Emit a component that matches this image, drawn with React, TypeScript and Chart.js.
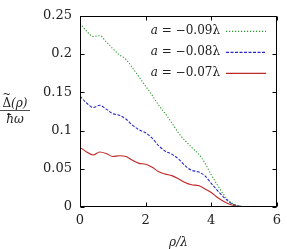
import React, { useEffect, useRef } from "react";
import { Chart, registerables } from "chart.js";

Chart.register(...registerables);

const xValues = [0, 0.2, 0.4, 0.6, 0.8, 1.0, 1.2, 1.4, 1.6, 1.8, 2.0, 2.2, 2.4, 2.6, 2.8, 3.0, 3.2, 3.4, 3.6, 3.8, 4.0, 4.2, 4.4, 4.6, 4.8, 5.0, 5.2, 5.4, 5.6, 5.8, 6.0];
const green09 = [0.240, 0.230, 0.223, 0.224, 0.216, 0.207, 0.199, 0.193, 0.182, 0.170, 0.158, 0.146, 0.133, 0.122, 0.110, 0.097, 0.087, 0.078, 0.070, 0.058, 0.042, 0.028, 0.015, 0.006, 0.002, 0.0005, 0, 0, 0, 0, 0];
const blue08 = [0.145, 0.136, 0.130, 0.133, 0.128, 0.122, 0.120, 0.115, 0.107, 0.101, 0.097, 0.090, 0.080, 0.073, 0.069, 0.063, 0.054, 0.048, 0.046, 0.041, 0.031, 0.021, 0.012, 0.005, 0.0015, 0.0003, 0, 0, 0, 0, 0];
const red07 = [0.078, 0.072, 0.068, 0.072, 0.070, 0.066, 0.067, 0.066, 0.061, 0.057, 0.056, 0.052, 0.046, 0.043, 0.041, 0.037, 0.032, 0.029, 0.028, 0.024, 0.019, 0.012, 0.007, 0.003, 0.001, 0.0002, 0, 0, 0, 0, 0];
const seriesLabels = ["−0.09λ", "−0.08λ", "−0.07λ"];
const xTicks = [0, 2, 4, 6];
const yTicks = [0, 0.05, 0.1, 0.15, 0.2, 0.25];
const yTickLabels = ["0", "0.05", "0.1", "0.15", "0.2", "0.25"];

const COLORS = ["rgb(40,150,40)", "rgb(40,40,200)", "rgb(190,40,40)"];
const DASHES = [[1.2, 1.8], [3, 1.5], []];
const FONT = "'DejaVu Serif', 'Liberation Serif', serif";

const framePlugin = {
  id: "frame",
  afterDraw(chart: any) {
    const { ctx, chartArea: a, scales } = chart;
    const L = Math.round(a.left) + 0.5, R = Math.round(a.right) - 0.5;
    const T = Math.round(a.top) + 0.5, B = Math.round(a.bottom) - 0.5;
    ctx.save();
    ctx.strokeStyle = "#000";
    ctx.lineWidth = 1;
    ctx.setLineDash([]);
    ctx.strokeRect(L, T, R - L, B - T);
    const tl = 4;
    ctx.beginPath();
    yTicks.forEach((v) => {
      const y = Math.round(scales.y.getPixelForValue(v)) + 0.5;
      ctx.moveTo(L, y); ctx.lineTo(L + tl, y);
      ctx.moveTo(R, y); ctx.lineTo(R - tl, y);
    });
    xTicks.forEach((v) => {
      const x = Math.round(scales.x.getPixelForValue(v)) + 0.5;
      ctx.moveTo(x, B); ctx.lineTo(x, B - tl);
      ctx.moveTo(x, T); ctx.lineTo(x, T + tl);
    });
    ctx.stroke();

    // legend
    ctx.textBaseline = "middle";
    const rows = [a.top + 15, a.top + 36, a.top + 57];
    rows.forEach((ry, i) => {
      const textRight = a.left + 140;
      ctx.fillStyle = "#222";
      ctx.textAlign = "right";
      const rest = " = " + seriesLabels[i];
      ctx.font = `12px ${FONT}`;
      const rw = ctx.measureText(rest).width;
      ctx.fillText(rest, textRight, ry);
      ctx.font = `italic 12px ${FONT}`;
      ctx.fillText("a", textRight - rw, ry);
      ctx.beginPath();
      ctx.strokeStyle = COLORS[i];
      ctx.lineWidth = 1.2;
      ctx.setLineDash(DASHES[i]);
      ctx.moveTo(a.left + 146, ry + 0.5);
      ctx.lineTo(a.left + 186, ry + 0.5);
      ctx.stroke();
    });
    ctx.setLineDash([]);

    // x title
    ctx.fillStyle = "#222";
    ctx.textAlign = "center";
    ctx.textBaseline = "alphabetic";
    ctx.font = `italic 12px ${FONT}`;
    ctx.fillText("ρ/λ", (a.left + a.right) / 2, a.bottom + 39);

    // y title as fraction
    const cx = 15;
    ctx.textAlign = "left";
    ctx.font = `12px ${FONT}`;
    const wD = ctx.measureText("Δ").width;
    ctx.font = `italic 12px ${FONT}`;
    const wRest = ctx.measureText("(ρ)").width;
    const start = cx - (wD + wRest) / 2;
    ctx.font = `12px ${FONT}`;
    ctx.fillText("Δ", start, 107);
    ctx.textAlign = "center";
    ctx.font = `10px ${FONT}`;
    ctx.fillText("~", start + wD / 2, 97);
    ctx.textAlign = "left";
    ctx.font = `italic 12px ${FONT}`;
    ctx.fillText("(ρ)", start + wD, 107);
    ctx.beginPath();
    ctx.strokeStyle = "#222";
    ctx.lineWidth = 0.8;
    ctx.moveTo(0, 110.5);
    ctx.lineTo(30, 110.5);
    ctx.stroke();
    ctx.textAlign = "center";
    ctx.fillText("ħω", cx, 123);
    ctx.restore();
  },
};

export default function App() {
  const ref = useRef<HTMLCanvasElement>(null);
  useEffect(() => {
    document.body.style.margin = "0";
    const mk = (vals: number[], i: number) => ({
      label: seriesLabels[i],
      data: xValues.map((x, k) => ({ x, y: vals[k] })),
      borderColor: COLORS[i],
      borderWidth: 1.1,
      borderDash: DASHES[i],
      pointRadius: 0,
      cubicInterpolationMode: "monotone" as const,
      fill: false,
    });
    const chart = new Chart(ref.current!, {
      type: "line",
      data: { datasets: [mk(green09, 0), mk(blue08, 1), mk(red07, 2)] },
      options: {
        animation: false,
        responsive: false,
        events: [],
        layout: { padding: { top: 5, right: 7, left: 0, bottom: 0 } },
        plugins: { legend: { display: false }, tooltip: { enabled: false } },
        scales: {
          x: {
            type: "linear",
            min: 0,
            max: 6,
            afterFit: (s: any) => { s.height = 42; },
            afterBuildTicks: (s: any) => { s.ticks = xTicks.map((v) => ({ value: v })); },
            grid: { display: false, drawTicks: false },
            border: { display: false },
            ticks: { padding: 6, color: "#222", font: { family: FONT, size: 13 }, callback: (v: any) => String(v) },
          },
          y: {
            type: "linear",
            min: 0,
            max: 0.25,
            afterFit: (s: any) => { s.width = 80; },
            afterBuildTicks: (s: any) => { s.ticks = yTicks.map((v) => ({ value: v })); },
            grid: { display: false, drawTicks: false },
            border: { display: false },
            ticks: {
              padding: 8,
              color: "#222",
              font: { family: FONT, size: 13 },
              callback: (v: any) => yTickLabels[yTicks.findIndex((t) => Math.abs(t - v) < 1e-9)] ?? String(v),
            },
          },
        },
      },
      plugins: [framePlugin],
    });
    return () => chart.destroy();
  }, []);
  return <canvas ref={ref} width={287} height={249} style={{ display: "block" }} />;
}
